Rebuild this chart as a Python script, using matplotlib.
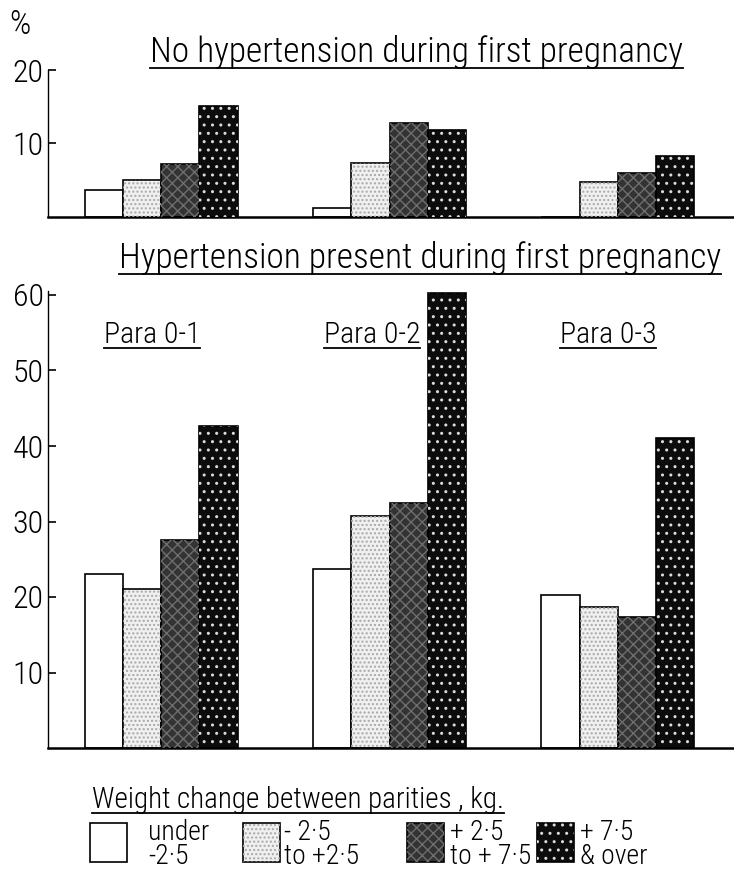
import numpy as np
import matplotlib.pyplot as plt
from matplotlib import font_manager
from matplotlib.patches import Rectangle
from matplotlib.lines import Line2D

# weight change classes (legend) and the three parity groups
categories = ['under\n-2·5', '- 2·5\nto +2·5', '+ 2·5\nto + 7·5', '+ 7·5\n& over']
groups = ['Para 0-1', 'Para 0-2', 'Para 0-3']

# % values, one list per weight class, across the three groups
no_hyp = [
    [3.7, 1.2, 0.0],
    [5.0, 7.3, 4.7],
    [7.2, 12.8, 6.0],
    [15.1, 11.9, 8.3],
]
hyp = [
    [23.1, 23.7, 20.3],
    [21.0, 30.7, 18.7],
    [27.5, 32.5, 17.4],
    [42.7, 60.3, 41.0],
]
top_ticks = [10, 20]
bottom_ticks = [10, 20, 30, 40, 50, 60]

# pick a narrow font if there is one
avail = {f.name for f in font_manager.fontManager.ttflist}
fam = 'DejaVu Sans'
for name in ['Liberation Sans Narrow', 'DejaVu Sans Condensed', 'Roboto Condensed', 'Noto Sans']:
    if name in avail:
        fam = name
        break
plt.rcParams['font.family'] = [fam, 'DejaVu Sans']
plt.rcParams['font.weight'] = 'light'
plt.rcParams['hatch.linewidth'] = 1.0

fills = ['white', '#f0f0f0', '#333333', '#0c0c0c']
hatches = [None, '....', 'xxx', '..']
hatch_cols = [None, '#a8a8a8', '#6e6e6e', '#dcdcdc']

W, H = 734, 871
fig = plt.figure(figsize=(W / 100, H / 100), dpi=100)


def fx(px):
    return px / W


def fy(py):
    return 1 - py / H


w = 0.167
x = np.arange(len(groups))


def draw_panel(ax, data, ymax, ticks):
    for i, vals in enumerate(data):
        pos = x + (i - 1.5) * w
        ax.bar(pos, vals, w, color=fills[i], edgecolor='black', linewidth=1.2, zorder=2)
        if hatches[i]:
            ax.bar(pos, vals, w, facecolor='none', edgecolor=hatch_cols[i],
                   hatch=hatches[i], linewidth=0, zorder=3)
    ax.set_xlim(-0.497, 2.51)
    ax.set_ylim(0, ymax)
    ax.set_xticks([])
    ax.set_yticks(ticks)
    ax.tick_params(axis='y', direction='in', length=6, width=1.2, labelsize=23, pad=3)
    for s in ['top', 'right']:
        ax.spines[s].set_visible(False)
    ax.spines['left'].set_linewidth(1.0)
    ax.spines['bottom'].set_linewidth(1.8)


ax1 = fig.add_axes([fx(48), fy(217), 1 - fx(48), (217 - 70) / H])
draw_panel(ax1, no_hyp, 20, top_ticks)

ax2 = fig.add_axes([fx(48), fy(748), 1 - fx(48), (748 - 295) / H * 60.5 / 60])
draw_panel(ax2, hyp, 60.5, bottom_ticks)

texts = []
fig.text(fx(20), fy(34), '%', fontsize=24, ha='center', va='baseline')
texts.append(fig.text(fx(416), fy(62), 'No hypertension during first pregnancy',
                      fontsize=25.5, ha='center', va='baseline'))
texts.append(fig.text(fx(420), fy(268), 'Hypertension present during first pregnancy',
                      fontsize=25.5, ha='center', va='baseline'))
for cx, g in zip([152, 372, 608], groups):
    texts.append(fig.text(fx(cx), fy(343), g, fontsize=21.5, ha='center', va='baseline'))
texts.append(fig.text(fx(92), fy(808), 'Weight change between parities , kg.',
                      fontsize=21, ha='left', va='baseline'))

# legend boxes
box_x = [90, 243, 407, 537]
txt_x = [148, 284, 450, 580]
for i in range(4):
    r = Rectangle((fx(box_x[i]), fy(862)), 37 / W, 39 / H, transform=fig.transFigure,
                  facecolor=fills[i], edgecolor='black', linewidth=1.2)
    fig.add_artist(r)
    if hatches[i]:
        fig.add_artist(Rectangle((fx(box_x[i]), fy(862)), 37 / W, 39 / H,
                                 transform=fig.transFigure, facecolor='none',
                                 edgecolor=hatch_cols[i], hatch=hatches[i], linewidth=0))
    fig.text(fx(txt_x[i]), fy(864), categories[i], fontsize=20, ha='left', va='baseline',
             linespacing=0.85)

# underline the headings
fig.canvas.draw()
rend = fig.canvas.get_renderer()
for t in texts:
    bb = t.get_window_extent(rend)
    y = (bb.y0 + 1) / fig.bbox.height
    fig.add_artist(Line2D([bb.x0 / fig.bbox.width, bb.x1 / fig.bbox.width], [y, y],
                          transform=fig.transFigure, color='black', linewidth=1.3))

fig.savefig('out.png', dpi=100)
